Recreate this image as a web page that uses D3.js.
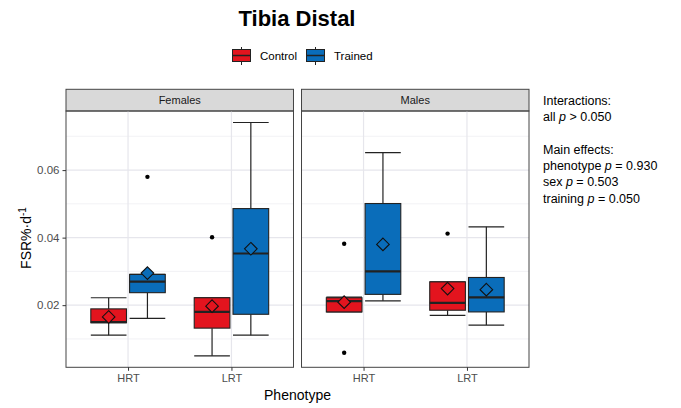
<!DOCTYPE html>
<html><head><meta charset="utf-8">
<script src="https://cdn.jsdelivr.net/npm/d3@7/dist/d3.min.js"></script>
<style>body{margin:0;background:#fff}svg{display:block;font-family:"Liberation Sans",Arial,sans-serif}</style>
</head><body><svg id="c" width="681" height="408"></svg>
<script>
// ---- data ----
const sexes = ["Females", "Males"];
const phenotypes = ["HRT", "LRT"];
const groups = ["Control", "Trained"];
// box order: sex x phenotype x group
const boxSex       = ["Females","Females","Females","Females","Males","Males","Males","Males"];
const boxPhenotype = ["HRT","HRT","LRT","LRT","HRT","HRT","LRT","LRT"];
const boxGroup     = ["Control","Trained","Control","Trained","Control","Trained","Control","Trained"];
const lowerWhisker = [0.0111, 0.0161, 0.0050, 0.0111, 0.0180, 0.0213, 0.0170, 0.0141];
const q1Values     = [0.0148, 0.0237, 0.0132, 0.0173, 0.0180, 0.0232, 0.0185, 0.0180];
const medianValues = [0.0150, 0.0270, 0.0180, 0.0353, 0.0212, 0.0300, 0.0207, 0.0223];
const q3Values     = [0.0189, 0.0291, 0.0222, 0.0486, 0.0222, 0.0501, 0.0269, 0.0282];
const upperWhisker = [0.0222, 0.0291, 0.0222, 0.0741, 0.0224, 0.0652, 0.0269, 0.0432];
const meanValues   = [0.0165, 0.0295, 0.0197, 0.0367, 0.0209, 0.0380, 0.0249, 0.0246];
const outlierValues= [[], [0.0580], [0.0401], [], [0.0382, 0.0059], [], [0.0412], []];
const yTicks = [0.02, 0.04, 0.06];
const yMinor = [0.01, 0.03, 0.05, 0.07];
const yDomain = [0.0016, 0.0775];
const annotation = [
  ["Interactions:"],
  ["all ", "p", " > 0.050"],
  null,
  ["Main effects:"],
  ["phenotype ", "p", " = 0.930"],
  ["sex ", "p", " = 0.503"],
  ["training ", "p", " = 0.050"]
];

// ---- layout ----
const colors = d3.scaleOrdinal().domain(groups).range(["#E3141E", "#0A6DBA"]);
const svg = d3.select("#c");
const panelTop = 111, panelBottom = 367.3, stripTop = 89.3;
const panelX = d3.scaleBand().domain(sexes).range([66, 529]).paddingInner(8/235);
const y = d3.scaleLinear().domain(yDomain).range([panelBottom, panelTop]);

// title
svg.append("text").attr("x", 297).attr("y", 26).attr("text-anchor", "middle")
  .attr("font-size", 22).attr("font-weight", "bold").attr("fill", "#000").text("Tibia Distal");

// legend
const legX = [232, 306];
groups.forEach((g, i) => {
  const lg = svg.append("g").attr("transform", `translate(${legX[i]},0)`);
  lg.append("line").attr("x1", 9.5).attr("x2", 9.5).attr("y1", 47).attr("y2", 65).attr("stroke", "#222");
  lg.append("rect").attr("x", 0.5).attr("y", 49.5).attr("width", 18).attr("height", 12)
    .attr("fill", colors(g)).attr("stroke", "#222");
  lg.append("line").attr("x1", 0.5).attr("x2", 18.5).attr("y1", 55.5).attr("y2", 55.5).attr("stroke", "#222").attr("stroke-width", 1.5);
  lg.append("text").attr("x", 28).attr("y", 60).attr("font-size", 11.5).attr("fill", "#000").text(g);
});

// panels
sexes.forEach(sex => {
  const x0 = panelX(sex), w = panelX.bandwidth();
  const g = svg.append("g");
  const x = d3.scalePoint().domain(phenotypes).range([x0, x0 + w]).padding(0.6);
  const step = x.step();
  const dodge = d3.scaleBand().domain(groups).range([-0.375 * step, 0.375 * step]);
  const bw = 0.345 * step;

  // strip
  g.append("rect").attr("x", x0).attr("y", stripTop).attr("width", w).attr("height", panelTop - stripTop)
    .attr("fill", "#d9d9d9").attr("stroke", "#444").attr("stroke-width", 1);
  g.append("text").attr("x", x0 + w / 2).attr("y", (stripTop + panelTop) / 2 + 4).attr("text-anchor", "middle")
    .attr("font-size", 11).attr("fill", "#1a1a1a").text(sex);

  // grid
  g.selectAll(".minor").data(yMinor).join("line")
    .attr("x1", x0).attr("x2", x0 + w).attr("y1", d => y(d)).attr("y2", d => y(d))
    .attr("stroke", "#efeff2").attr("stroke-width", 0.8);
  g.selectAll(".major").data(yTicks).join("line")
    .attr("x1", x0).attr("x2", x0 + w).attr("y1", d => y(d)).attr("y2", d => y(d))
    .attr("stroke", "#e6e6ec").attr("stroke-width", 1.2);
  g.selectAll(".vmajor").data(phenotypes).join("line")
    .attr("x1", d => x(d)).attr("x2", d => x(d)).attr("y1", panelTop).attr("y2", panelBottom)
    .attr("stroke", "#e6e6ec").attr("stroke-width", 1.2);

  // boxes
  boxSex.forEach((s, i) => {
    if (s !== sex) return;
    const cx = x(boxPhenotype[i]) + dodge(boxGroup[i]) + dodge.bandwidth() / 2;
    const col = colors(boxGroup[i]);
    const bg = g.append("g");
    // whiskers
    bg.append("line").attr("x1", cx).attr("x2", cx).attr("y1", y(upperWhisker[i])).attr("y2", y(q3Values[i])).attr("stroke", "#222").attr("stroke-width", 1.2);
    bg.append("line").attr("x1", cx).attr("x2", cx).attr("y1", y(q1Values[i])).attr("y2", y(lowerWhisker[i])).attr("stroke", "#222").attr("stroke-width", 1.2);
    [upperWhisker[i], lowerWhisker[i]].forEach(v => {
      bg.append("line").attr("x1", cx - bw / 2).attr("x2", cx + bw / 2).attr("y1", y(v)).attr("y2", y(v)).attr("stroke", "#222").attr("stroke-width", 1.2);
    });
    // box
    bg.append("rect").attr("x", cx - bw / 2).attr("y", y(q3Values[i])).attr("width", bw)
      .attr("height", Math.max(1, y(q1Values[i]) - y(q3Values[i])))
      .attr("fill", col).attr("stroke", "#222").attr("stroke-width", 1.1);
    bg.append("line").attr("x1", cx - bw / 2).attr("x2", cx + bw / 2).attr("y1", y(medianValues[i])).attr("y2", y(medianValues[i]))
      .attr("stroke", "#222").attr("stroke-width", 2.2);
    // outliers
    outlierValues[i].forEach(v => {
      bg.append("circle").attr("cx", cx).attr("cy", y(v)).attr("r", 2.2).attr("fill", "#000");
    });
    // mean diamond
    const r = 6.3, my = y(meanValues[i]);
    bg.append("path").attr("d", `M${cx},${my - r}L${cx + r},${my}L${cx},${my + r}L${cx - r},${my}Z`)
      .attr("fill", col).attr("stroke", "#111").attr("stroke-width", 1.1);
  });

  // border
  g.append("rect").attr("x", x0).attr("y", panelTop).attr("width", w).attr("height", panelBottom - panelTop)
    .attr("fill", "none").attr("stroke", "#444").attr("stroke-width", 1);

  // x axis
  const xa = g.append("g").attr("transform", `translate(0,${panelBottom})`)
    .call(d3.axisBottom(x).tickSize(3.5).tickPadding(3));
  xa.select(".domain").remove();
  xa.selectAll("line").attr("stroke", "#333");
  xa.selectAll("text").attr("font-size", 11).attr("fill", "#4d4d4d").attr("font-family", "Liberation Sans, Arial, sans-serif");
});

// y axis
const ya = svg.append("g").attr("transform", `translate(${panelX("Females")},0)`)
  .call(d3.axisLeft(y).tickValues(yTicks).tickFormat(d3.format(".2f")).tickSize(3.5).tickPadding(3));
ya.select(".domain").remove();
ya.selectAll("line").attr("stroke", "#333");
ya.selectAll("text").attr("font-size", 11.5).attr("fill", "#4d4d4d").attr("font-family", "Liberation Sans, Arial, sans-serif");

// axis titles
svg.append("text").attr("x", 297.5).attr("y", 400).attr("text-anchor", "middle").attr("font-size", 14).attr("fill", "#000").text("Phenotype");
const yt = svg.append("text").attr("transform", "translate(31,238) rotate(-90)").attr("text-anchor", "middle")
  .attr("font-size", 14).attr("fill", "#000");
yt.append("tspan").text("FSR%\u00B7d");
yt.append("tspan").attr("dy", -5).attr("font-size", 10).text("-1");

// annotation
const annY = d3.scaleLinear().domain([0, 1]).range([104.5, 120.8]);
annotation.forEach((line, i) => {
  if (!line) return;
  const t = svg.append("text").attr("x", 543).attr("y", annY(i) + (i >= 3 ? 0.4 : 0)).attr("font-size", 12.5).attr("fill", "#000");
  line.forEach(part => {
    t.append("tspan").attr("font-style", part === "p" ? "italic" : "normal").text(part);
  });
});
</script>
</body></html>
